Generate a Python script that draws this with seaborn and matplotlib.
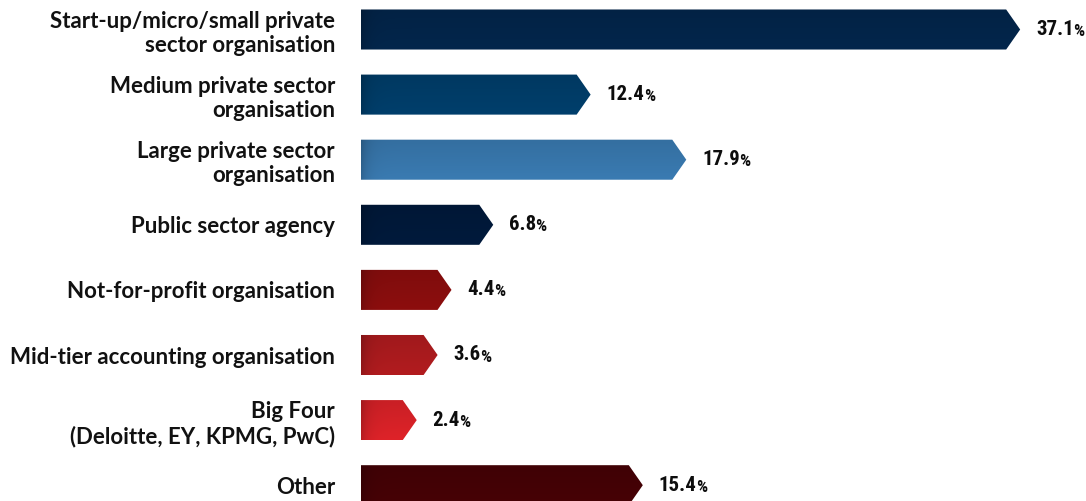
import numpy as np
import matplotlib
matplotlib.use("Agg")
import matplotlib.pyplot as plt
from matplotlib.patches import Polygon
from matplotlib.colors import to_rgb
import seaborn as sns

categories = [
    "Start-up/micro/small private\nsector organisation",
    "Medium private sector\norganisation",
    "Large private sector\norganisation",
    "Public sector agency",
    "Not-for-profit organisation",
    "Mid-tier accounting organisation",
    "Big Four\n(Deloitte, EY, KPMG, PwC)",
    "Other",
]
values = [37.1, 12.4, 17.9, 6.8, 4.4, 3.6, 2.4, 15.4]
bar_colors = ["#03264c", "#013f6c", "#3a7bb2", "#011a3c",
              "#8d0e0e", "#b21c1f", "#df2329", "#470206"]

sns.set_theme(style="white")
plt.rcParams["font.family"] = ["Lato", "DejaVu Sans"]
value_font = ["Roboto Condensed", "DejaVu Sans"]

W, H, DPI = 1086, 501, 100
fig = plt.figure(figsize=(W / DPI, H / DPI), dpi=DPI)
fig.patch.set_facecolor("white")

ax_left_px = 361
ax = fig.add_axes([ax_left_px / W, 0, (W - ax_left_px) / W, 1])

px_per_unit = 17.39
row_px = 65.1
first_center_px = 29.5

sns.barplot(x=values, y=categories, hue=categories, palette=bar_colors,
            orient="h", width=0.615, legend=False, ax=ax)

tip_len = 14.0 / px_per_unit  # arrow head length in data units

for patch, col, val in zip(ax.patches, bar_colors, values):
    x0 = patch.get_x()
    y0 = patch.get_y()
    w = patch.get_width()
    h = patch.get_height()
    patch.set_visible(False)
    yc = y0 + h / 2
    verts = [(x0, y0), (x0 + w, y0), (x0 + w + tip_len, yc),
             (x0 + w, y0 + h), (x0, y0 + h)]
    poly = Polygon(verts, closed=True, facecolor="none", edgecolor="none")
    ax.add_patch(poly)

    # subtle shading: darker near the top edge and the left edge
    total_px = int((w + tip_len) * px_per_unit) + 2
    ny = 40
    dx = np.arange(total_px)[None, :]
    fy = np.linspace(0, 1, ny)[:, None]
    shade = 1 - 0.10 * (1 - fy) - 0.18 * np.exp(-dx / 7.0)
    shade = np.clip(shade, 0, 1)
    rgb = np.array(to_rgb(col))
    img = rgb[None, None, :] * shade[..., None]
    im = ax.imshow(img, extent=(x0, x0 + w + tip_len, y0 + h, y0),
                   aspect="auto", interpolation="bilinear", zorder=2)
    im.set_clip_path(poly)

    label_x = x0 + w + tip_len + 16 / px_per_unit
    t = ax.text(label_x, yc, f"{val:.1f}", fontsize=15, fontweight="bold",
                family=value_font, color="#0d0d0d", ha="left", va="center",
                zorder=3)
    ax.annotate("%", xy=(1, 0), xycoords=t, xytext=(-0.6, 0),
                textcoords="offset points", fontsize=12.5, fontweight="bold",
                family=value_font, color="#0d0d0d", ha="left", va="bottom",
                zorder=3)

ax.set_xlim(0, (W - ax_left_px) / px_per_unit)
ax.set_ylim((H - first_center_px) / row_px, -first_center_px / row_px)
ax.set_xlabel("")
ax.set_ylabel("")
ax.set_xticks([])
ax.tick_params(axis="y", length=0, pad=18.7)
for lbl in ax.get_yticklabels():
    lbl.set_fontsize(16)
    lbl.set_fontweight("bold")
    lbl.set_color("#111111")
    lbl.set_linespacing(1.2)
for s in ax.spines.values():
    s.set_visible(False)
ax.set_facecolor("none")

fig.savefig("out.png", dpi=DPI, facecolor="white")
